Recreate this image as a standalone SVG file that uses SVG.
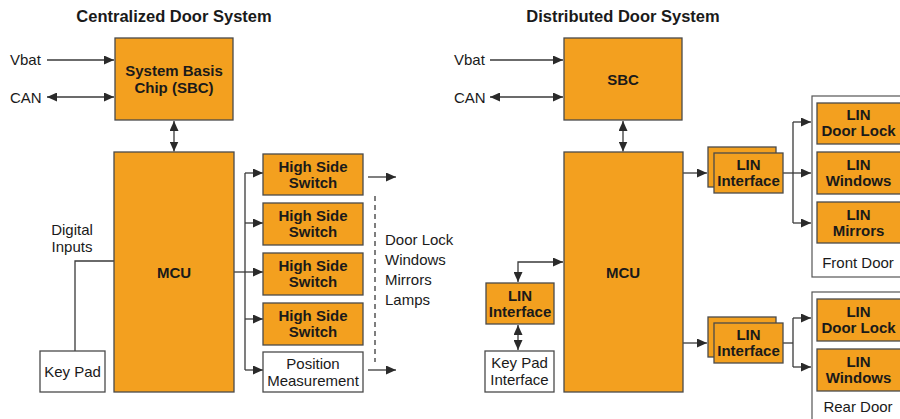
<svg xmlns="http://www.w3.org/2000/svg" width="900" height="419" viewBox="0 0 900 419">
<defs>
<marker id="ah" markerUnits="userSpaceOnUse" markerWidth="10" markerHeight="9" refX="10" refY="4.5" orient="auto-start-reverse" viewBox="0 0 10 9">
<path d="M0,0 L10,4.5 L0,9 z" fill="#2a2a2a"/>
</marker>
<style>
.o{fill:#F3A01F;stroke:#4a4a4a;stroke-width:1.3}
.w{fill:#ffffff;stroke:#4a4a4a;stroke-width:1.3}
.g{fill:#ffffff;stroke:#555;stroke-width:1.2}
.b{font-family:"Liberation Sans",Arial,sans-serif;font-weight:bold;font-size:15px;fill:#1a1a1a;text-anchor:middle}
.r{font-family:"Liberation Sans",Arial,sans-serif;font-size:15px;fill:#1a1a1a}
.rc{font-family:"Liberation Sans",Arial,sans-serif;font-size:15px;fill:#1a1a1a;text-anchor:middle}
.t{font-family:"Liberation Sans",Arial,sans-serif;font-weight:bold;font-size:16.5px;fill:#1a1a1a;text-anchor:middle}
.c{fill:none;stroke:#3a3a3a;stroke-width:1.3}
.a{fill:none;stroke:#3a3a3a;stroke-width:1.3;marker-end:url(#ah)}
.d{fill:none;stroke:#3a3a3a;stroke-width:1.3;marker-end:url(#ah);marker-start:url(#ah)}
</style>
</defs>
<rect width="900" height="419" fill="#ffffff"/>

<!-- Titles and free labels -->
<text class="t" x="174" y="21.5">Centralized Door System</text>
<text class="t" x="623" y="21.5">Distributed Door System</text>
<text class="r" x="10" y="64.5">Vbat</text>
<text class="r" x="10" y="103">CAN</text>
<text class="r" x="454" y="64.5">Vbat</text>
<text class="r" x="454" y="103">CAN</text>
<text class="rc" x="72" y="235">Digital</text>
<text class="rc" x="72" y="252">Inputs</text>
<text class="r" x="385" y="245">Door Lock</text>
<text class="r" x="385" y="265">Windows</text>
<text class="r" x="385" y="285">Mirrors</text>
<text class="r" x="385" y="305">Lamps</text>

<!-- Group frames -->
<g id="front-door">
<rect class="g" x="812" y="96" width="100" height="181"/>
<text class="rc" x="858" y="268">Front Door</text>
</g>
<g id="rear-door">
<rect class="g" x="812" y="292" width="100" height="140"/>
<text class="rc" x="858" y="412">Rear Door</text>
</g>

<!-- Connectors -->
<g id="connectors">
<line class="a" x1="47" y1="60" x2="114" y2="60"/>
<line class="d" x1="47" y1="97" x2="114" y2="97"/>
<line class="d" x1="174" y1="121" x2="174" y2="151.5"/>
<line class="c" x1="234" y1="272" x2="245" y2="272"/>
<line class="c" x1="245" y1="173" x2="245" y2="370"/>
<line class="a" x1="245" y1="173" x2="263" y2="173"/>
<line class="a" x1="245" y1="223" x2="263" y2="223"/>
<line class="a" x1="245" y1="272" x2="263" y2="272"/>
<line class="a" x1="245" y1="319" x2="263" y2="319"/>
<line class="a" x1="245" y1="370" x2="263" y2="370"/>
<line class="a" x1="368" y1="177" x2="396" y2="177"/>
<line class="a" x1="368" y1="370" x2="396" y2="370"/>
<line class="c" x1="375" y1="196" x2="375" y2="362" stroke-dasharray="5,4"/>
<polyline class="c" points="114,261 75,261 75,351"/>

<line class="a" x1="490" y1="60" x2="563" y2="60"/>
<line class="d" x1="490" y1="97" x2="563" y2="97"/>
<line class="d" x1="623" y1="121" x2="623" y2="151.5"/>
<line class="a" x1="683" y1="173" x2="707" y2="173"/>
<line class="c" x1="783" y1="173" x2="793" y2="173"/>
<line class="c" x1="793" y1="122" x2="793" y2="223"/>
<line class="a" x1="793" y1="122" x2="811" y2="122"/>
<line class="a" x1="793" y1="173" x2="811" y2="173"/>
<line class="a" x1="793" y1="223" x2="811" y2="223"/>
<line class="a" x1="683" y1="343" x2="707" y2="343"/>
<line class="c" x1="783" y1="343" x2="793" y2="343"/>
<line class="c" x1="793" y1="318" x2="793" y2="367"/>
<line class="a" x1="793" y1="318" x2="811" y2="318"/>
<line class="a" x1="793" y1="367" x2="811" y2="367"/>
<polyline class="d" points="518,282 518,262 563,262"/>
<line class="d" x1="518" y1="325" x2="518" y2="350"/>
</g>

<!-- Centralized nodes -->
<g id="sbc-left">
<rect class="o" x="115" y="38" width="118" height="82"/>
<text class="b" x="174" y="75.5">System Basis</text>
<text class="b" x="174" y="92.5">Chip (SBC)</text>
</g>
<g id="mcu-left">
<rect class="o" x="114" y="152" width="120" height="240"/>
<text class="b" x="174" y="277.5" font-size="16">MCU</text>
</g>
<g id="hss1">
<rect class="o" x="263" y="154" width="100" height="41"/>
<text class="b" x="313" y="171.5">High Side</text>
<text class="b" x="313" y="187.5">Switch</text>
</g>
<g id="hss2">
<rect class="o" x="263" y="203" width="100" height="42"/>
<text class="b" x="313" y="221">High Side</text>
<text class="b" x="313" y="237">Switch</text>
</g>
<g id="hss3">
<rect class="o" x="263" y="253" width="100" height="42"/>
<text class="b" x="313" y="271">High Side</text>
<text class="b" x="313" y="287">Switch</text>
</g>
<g id="hss4">
<rect class="o" x="263" y="303" width="100" height="42"/>
<text class="b" x="313" y="321">High Side</text>
<text class="b" x="313" y="337">Switch</text>
</g>
<g id="position">
<rect class="w" x="263" y="352" width="100" height="40"/>
<text class="rc" x="313" y="369">Position</text>
<text class="rc" x="313" y="385.5">Measurement</text>
</g>
<g id="keypad">
<rect class="w" x="40" y="351" width="65" height="41"/>
<text class="rc" x="72.5" y="377">Key Pad</text>
</g>

<!-- Distributed nodes -->
<g id="sbc-right">
<rect class="o" x="564" y="38" width="118" height="82"/>
<text class="b" x="623" y="84.5" font-size="16">SBC</text>
</g>
<g id="mcu-right">
<rect class="o" x="564" y="152" width="119" height="240"/>
<text class="b" x="623" y="277.5" font-size="16">MCU</text>
</g>
<g id="lin-if-front">
<rect class="o" x="708" y="147" width="68" height="40"/>
<rect class="o" x="714" y="153" width="69" height="40"/>
<text class="b" x="748.5" y="169.5">LIN</text>
<text class="b" x="748.5" y="185.5">Interface</text>
</g>
<g id="lin-if-rear">
<rect class="o" x="708" y="317" width="68" height="40"/>
<rect class="o" x="714" y="323" width="69" height="40"/>
<text class="b" x="748.5" y="339.5">LIN</text>
<text class="b" x="748.5" y="355.5">Interface</text>
</g>
<g id="lin-if-left">
<rect class="o" x="486" y="283" width="68" height="41"/>
<text class="b" x="520" y="300.5">LIN</text>
<text class="b" x="520" y="316.5">Interface</text>
</g>
<g id="keypad-if">
<rect class="w" x="485" y="351" width="69" height="41"/>
<text class="rc" x="519.5" y="368">Key Pad</text>
<text class="rc" x="519.5" y="384.5">Interface</text>
</g>
<g id="lin-doorlock-front">
<rect class="o" x="817" y="103" width="88" height="41"/>
<text class="b" x="858.5" y="120">LIN</text>
<text class="b" x="858.5" y="136">Door Lock</text>
</g>
<g id="lin-windows-front">
<rect class="o" x="817" y="152" width="88" height="42"/>
<text class="b" x="858.5" y="170">LIN</text>
<text class="b" x="858.5" y="186">Windows</text>
</g>
<g id="lin-mirrors-front">
<rect class="o" x="817" y="202" width="88" height="41"/>
<text class="b" x="858.5" y="219.5">LIN</text>
<text class="b" x="858.5" y="235.5">Mirrors</text>
</g>
<g id="lin-doorlock-rear">
<rect class="o" x="817" y="299" width="88" height="42"/>
<text class="b" x="858.5" y="317">LIN</text>
<text class="b" x="858.5" y="333">Door Lock</text>
</g>
<g id="lin-windows-rear">
<rect class="o" x="817" y="349" width="88" height="42"/>
<text class="b" x="858.5" y="367">LIN</text>
<text class="b" x="858.5" y="383">Windows</text>
</g>
</svg>
